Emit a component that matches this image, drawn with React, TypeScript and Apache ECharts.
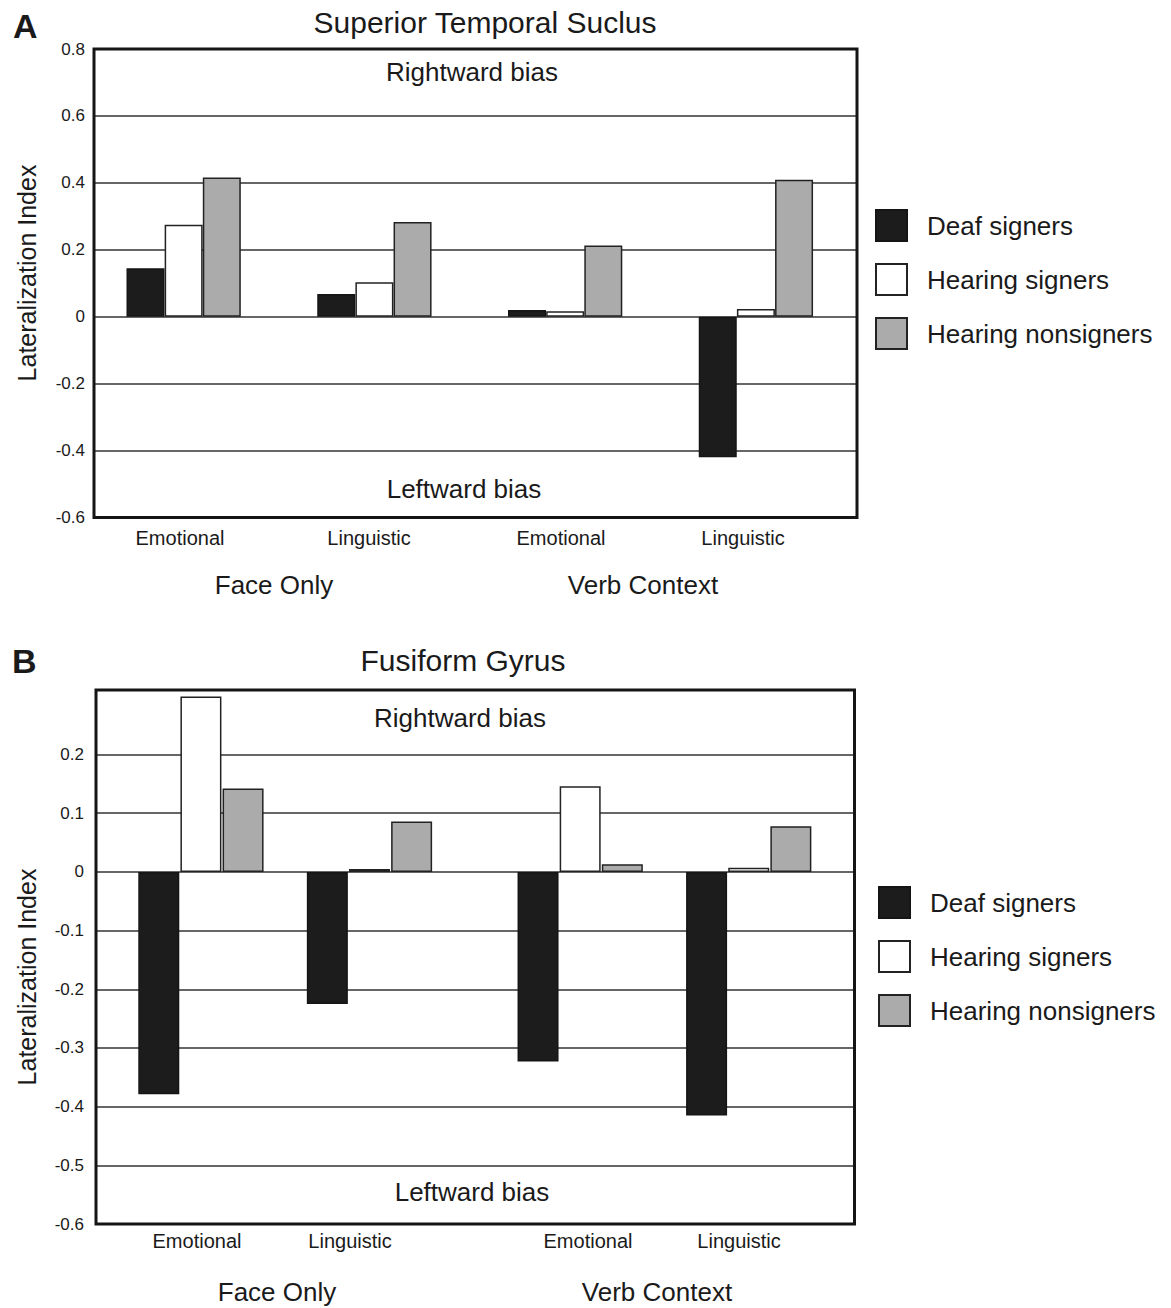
import React, { useEffect, useRef } from 'react';
import * as echarts from 'echarts';

// ---------- data ----------
const seriesNames = ['Deaf signers', 'Hearing signers', 'Hearing nonsigners'];
const conditionLabels = ['Emotional', 'Linguistic', 'Emotional', 'Linguistic'];
const contextLabels = ['Face Only', 'Verb Context'];

// Panel A: Superior Temporal Suclus
const stsDeaf = [0.145, 0.068, 0.02, -0.42];
const stsHearing = [0.275, 0.103, 0.016, 0.023];
const stsNonsigners = [0.416, 0.283, 0.213, 0.409];

// Panel B: Fusiform Gyrus
const fgDeaf = [-0.379, -0.225, -0.323, -0.415];
const fgHearing = [0.299, 0.005, 0.146, 0.007];
const fgNonsigners = [0.142, 0.086, 0.013, 0.078];
const fgGridValues = [0.2, 0.1, 0, -0.1, -0.2, -0.3, -0.4, -0.5];

// ---------- layout / style ----------
const FONT = "'Liberation Sans', Arial, Helvetica, sans-serif";
const INK = '#1a1a1a';
const GRIDLINE = '#666666';
const topSlots = [0, 5, 10, 15];
const bottomSlots = [0, 4, 9, 13];
const barStyles = [
  { color: '#1c1c1c', borderColor: '#151515', borderWidth: 1.5 },
  { color: '#ffffff', borderColor: '#222222', borderWidth: 1.5 },
  { color: '#ababab', borderColor: '#222222', borderWidth: 1.5 },
];

function makeBars(values: number[][], axisIndex: number, slots: number[], barWidth: number) {
  return seriesNames.map((name, s) => ({
    type: 'bar',
    name,
    xAxisIndex: axisIndex,
    yAxisIndex: axisIndex,
    barWidth,
    barGap: '-100%',
    z: 3,
    itemStyle: barStyles[s],
    data: values[s].map((v, g) => [slots[g] + s, v]),
  }));
}

function txt(text: string, x: number, y: number, size: number, extra: any = {}) {
  return {
    type: 'text',
    x,
    y,
    z: 10,
    rotation: extra.rotation || 0,
    style: {
      text,
      fill: INK,
      fontSize: size,
      fontFamily: FONT,
      fontWeight: extra.bold ? 'bold' : 'normal',
      align: extra.align || 'center',
      verticalAlign: 'middle',
      textAlign: extra.align || 'center',
      textVerticalAlign: 'middle',
    },
  };
}

const topCatX = [180, 369, 561, 743];
const bottomCatX = [197, 350, 588, 739];
const topCtxX = [274, 643];
const bottomCtxX = [277, 657];

const graphics: any[] = [
  txt('A', 13, 26, 34, { bold: true, align: 'left' }),
  txt('Superior Temporal Suclus', 485, 22, 30),
  txt('Rightward bias', 472, 72, 26),
  txt('Leftward bias', 464, 489, 26),
  txt('Lateralization Index', 27, 273, 25, { rotation: Math.PI / 2 }),
  ...conditionLabels.map((c, i) => txt(c, topCatX[i], 538, 20)),
  ...contextLabels.map((c, i) => txt(c, topCtxX[i], 585, 26)),
  txt('B', 12, 661, 34, { bold: true, align: 'left' }),
  txt('Fusiform Gyrus', 463, 660, 30),
  txt('Rightward bias', 460, 718, 26),
  txt('Leftward bias', 472, 1192, 26),
  txt('Lateralization Index', 27, 977, 25, { rotation: Math.PI / 2 }),
  ...conditionLabels.map((c, i) => txt(c, bottomCatX[i], 1241, 20)),
  ...contextLabels.map((c, i) => txt(c, bottomCtxX[i], 1292, 26)),
];

const legendBase = {
  orient: 'vertical',
  padding: 0,
  itemWidth: 31,
  itemHeight: 31,
  itemGap: 21,
  icon: 'rect',
  selectedMode: false,
  data: seriesNames,
  textStyle: { fontSize: 26, lineHeight: 30, fontFamily: FONT, color: INK, padding: [0, 0, 0, 15] },
};

const option: any = {
  animation: false,
  backgroundColor: '#ffffff',
  textStyle: { fontFamily: FONT },
  grid: [
    { left: 94, top: 49, width: 763, height: 468.5, show: true, borderColor: '#151515', borderWidth: 3, backgroundColor: 'transparent', z: 4 },
    { left: 96, top: 690, width: 758.5, height: 534, show: true, borderColor: '#151515', borderWidth: 3, backgroundColor: 'transparent', z: 4 },
  ],
  legend: [
    { ...legendBase, left: 875, top: 209 },
    { ...legendBase, left: 878, top: 886 },
  ],
  xAxis: [
    { type: 'value', gridIndex: 0, min: -1.35, max: 18.65, axisLine: { show: false }, axisTick: { show: false }, axisLabel: { show: false }, splitLine: { show: false } },
    { type: 'value', gridIndex: 1, min: -1.49, max: 16.51, axisLine: { show: false }, axisTick: { show: false }, axisLabel: { show: false }, splitLine: { show: false } },
  ],
  yAxis: [
    {
      type: 'value', gridIndex: 0, min: -0.6, max: 0.8, interval: 0.2,
      axisLine: { show: false }, axisTick: { show: false },
      axisLabel: { color: INK, fontSize: 17, fontFamily: FONT, margin: 9 },
      splitLine: { show: true, showMinLine: false, showMaxLine: false, lineStyle: { color: GRIDLINE, width: 2 } },
    },
    {
      type: 'value', gridIndex: 1, min: -0.6, max: 0.31, interval: 0.1,
      axisLine: { show: false }, axisTick: { show: false },
      axisLabel: {
        color: INK, fontSize: 17, fontFamily: FONT, margin: 12, showMaxLabel: false,
        formatter: (v: number) => (v > 0.25 ? '' : String(Math.round(v * 10) / 10)),
      },
      splitLine: { show: false },
    },
  ],
  graphic: graphics,
  series: [
    ...makeBars([stsDeaf, stsHearing, stsNonsigners], 0, topSlots, 38),
    ...makeBars([fgDeaf, fgHearing, fgNonsigners], 1, bottomSlots, 41),
    {
      type: 'line',
      name: 'grid',
      xAxisIndex: 1,
      yAxisIndex: 1,
      data: [],
      silent: true,
      z: 1,
      markLine: {
        silent: true,
        z: 1,
        symbol: ['none', 'none'],
        label: { show: false },
        lineStyle: { color: GRIDLINE, width: 2, type: 'solid' },
        data: fgGridValues.map((v) => ({ yAxis: v })),
      },
    },
  ],
};

export default function App() {
  const ref = useRef<HTMLDivElement>(null);
  useEffect(() => {
    const chart = echarts.init(ref.current!, null, { renderer: 'svg' });
    chart.setOption(option);
    return () => chart.dispose();
  }, []);
  return (
    <div
      ref={ref}
      style={{ position: 'absolute', left: 0, top: 0, width: 1171, height: 1308, background: '#fff' }}
    />
  );
}
